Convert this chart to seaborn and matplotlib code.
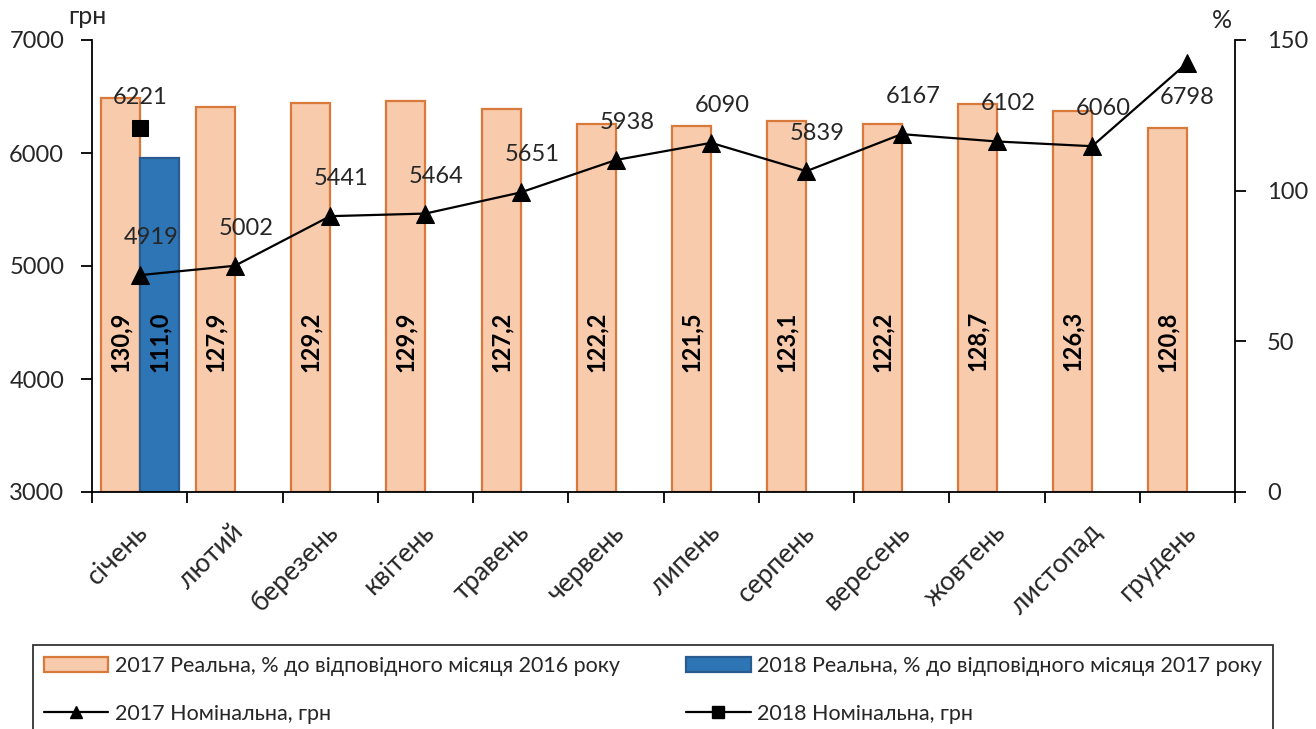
import numpy as np
import pandas as pd
import matplotlib
matplotlib.use("Agg")
import matplotlib.pyplot as plt
from matplotlib.lines import Line2D
from matplotlib.patches import Patch
from matplotlib.transforms import ScaledTranslation
import seaborn as sns

months = ["січень", "лютий", "березень", "квітень", "травень", "червень",
          "липень", "серпень", "вересень", "жовтень", "листопад", "грудень"]
real_2017 = [130.9, 127.9, 129.2, 129.9, 127.2, 122.2, 121.5, 123.1, 122.2, 128.7, 126.3, 120.8]
real_2018 = [111.0]
nom_2017 = [4919, 5002, 5441, 5464, 5651, 5938, 6090, 5839, 6167, 6102, 6060, 6798]
nom_2018 = [6221]

lbl_r17 = "2017 Реальна, % до відповідного місяця 2016 року"
lbl_r18 = "2018 Реальна, % до відповідного місяця 2017 року"
lbl_n17 = "2017 Номінальна, грн"
lbl_n18 = "2018 Номінальна, грн"

sns.set_theme(style="white")
plt.rcParams["font.family"] = ["Lato", "DejaVu Sans"]

c17_face, c17_edge = "#F8CBAD", "#D9793A"
c18_face, c18_edge = "#2E75B6", "#2A5B8E"

bar_df = pd.DataFrame({
    "month": months + months[:len(real_2018)],
    "value": real_2017 + real_2018,
    "series": [lbl_r17] * len(real_2017) + [lbl_r18] * len(real_2018),
})

fig = plt.figure(figsize=(13.16, 7.29), dpi=100)
ax = fig.add_axes([92/1316, 1-492/729, (1235-92)/1316, (492-40)/729])

sns.barplot(data=bar_df, x="month", y="value", hue="series", order=months,
            hue_order=[lbl_r17, lbl_r18], palette=[c17_face, c18_face],
            saturation=1, width=0.82, dodge=True, ax=ax, legend=False,
            linewidth=1.6)
for cont, ec in zip(ax.containers, [c17_edge, c18_edge]):
    for p in cont:
        p.set_edgecolor(ec)

ax.set_ylim(0, 150)
ax.set_xlim(-0.5, 11.5)
ax.set_xlabel("")
ax.set_ylabel("")

bw = 0.41
for i, v in enumerate(real_2017):
    ax.text(i - bw/2, 50, f"{v:.1f}".replace(".", ","), rotation=90,
            ha="center", va="center", fontsize=17, fontweight="bold", color="black")
for i, v in enumerate(real_2018):
    ax.text(i + bw/2, 50, f"{v:.1f}".replace(".", ","), rotation=90,
            ha="center", va="center", fontsize=17, fontweight="bold", color="black")

ax2 = ax.twinx()
idx = np.arange(len(months))
sns.lineplot(x=idx, y=nom_2017, ax=ax2, color="black", marker="^",
             markersize=13, markeredgecolor="black", linewidth=1.6)
sns.lineplot(x=np.arange(len(nom_2018)), y=nom_2018, ax=ax2, color="black",
             marker="s", markersize=11, markeredgecolor="black", linewidth=1.6)
ax2.set_ylim(3000, 7000)
ax2.set_yticks([3000, 4000, 5000, 6000, 7000])
ax2.set_xlim(-0.5, 11.5)
ax2.set_ylabel("")

for i, v in enumerate(nom_2017):
    if i == len(nom_2017) - 1:
        ax2.annotate(str(v), (i, v), xytext=(0, -25), textcoords="offset points",
                     ha="center", va="center", fontsize=17)
    else:
        ax2.annotate(str(v), (i, v), xytext=(8, 27), textcoords="offset points",
                     ha="center", va="center", fontsize=17)
for i, v in enumerate(nom_2018):
    ax2.annotate(str(v), (i, v), xytext=(0, 22), textcoords="offset points",
                 ha="center", va="center", fontsize=17)

# y axes: bars (%) on right, line (грн) on left
ax.set_yticks([0, 50, 100, 150])
ax.tick_params(axis="y", left=False, labelleft=False, right=True, labelright=True,
               direction="out", length=8, width=1.3, color="black",
               labelsize=17, pad=15)
ax2.tick_params(axis="y", left=True, labelleft=True, right=False, labelright=False,
                direction="out", length=8, width=1.3, color="black",
                labelsize=17, pad=12)

for a in (ax, ax2):
    for s in a.spines.values():
        s.set_visible(False)
for s in ("bottom", "right"):
    ax.spines[s].set_visible(True)
    ax.spines[s].set_color("black")
    ax.spines[s].set_linewidth(1.3)
ax2.spines["left"].set_visible(True)
ax2.spines["left"].set_color("black")
ax2.spines["left"].set_linewidth(1.3)

# x axis: ticks at category boundaries, labels at centres
ax.set_xticks(np.arange(13) - 0.5)
ax.set_xticklabels([""] * 13)
ax.set_xticks(np.arange(12), minor=True)
ax.set_xticklabels(months, minor=True, rotation=45, ha="right",
                   rotation_mode="anchor", fontsize=19)
ax.tick_params(axis="x", which="major", direction="out", length=8, width=1.3,
               color="black", bottom=True)
ax.tick_params(axis="x", which="minor", length=0, pad=20)
offset = ScaledTranslation(-4/100, 0, fig.dpi_scale_trans)
for t in ax.get_xticklabels(minor=True):
    t.set_transform(t.get_transform() + offset)

ax.grid(False)
ax2.grid(False)

fig.text(68/1316, 1-17/729, "грн", fontsize=18, ha="left", va="center")
fig.text(1222/1316, 1-20/729, "%", fontsize=18, ha="center", va="center")

handles = [
    Patch(facecolor=c17_face, edgecolor=c17_edge, linewidth=1.6, label=lbl_r17),
    Line2D([0], [0], color="black", marker="^", markersize=9, linewidth=1.6, label=lbl_n17),
    Patch(facecolor=c18_face, edgecolor=c18_edge, linewidth=1.6, label=lbl_r18),
    Line2D([0], [0], color="black", marker="s", markersize=8, linewidth=1.6, label=lbl_n18),
]
leg = fig.legend(handles=handles, loc="upper left",
                 bbox_to_anchor=(33/1316, 1-645/729, (1273-33)/1316, 0.0),
                 mode="expand", ncol=2, fontsize=15.5, frameon=True, fancybox=False,
                 borderaxespad=0, handlelength=3.0, handletextpad=0.3,
                 labelspacing=1.3, borderpad=0.5, columnspacing=0.8)
leg.get_frame().set_edgecolor("black")
leg.get_frame().set_linewidth(1.3)

fig.savefig("out.png", dpi=100)
